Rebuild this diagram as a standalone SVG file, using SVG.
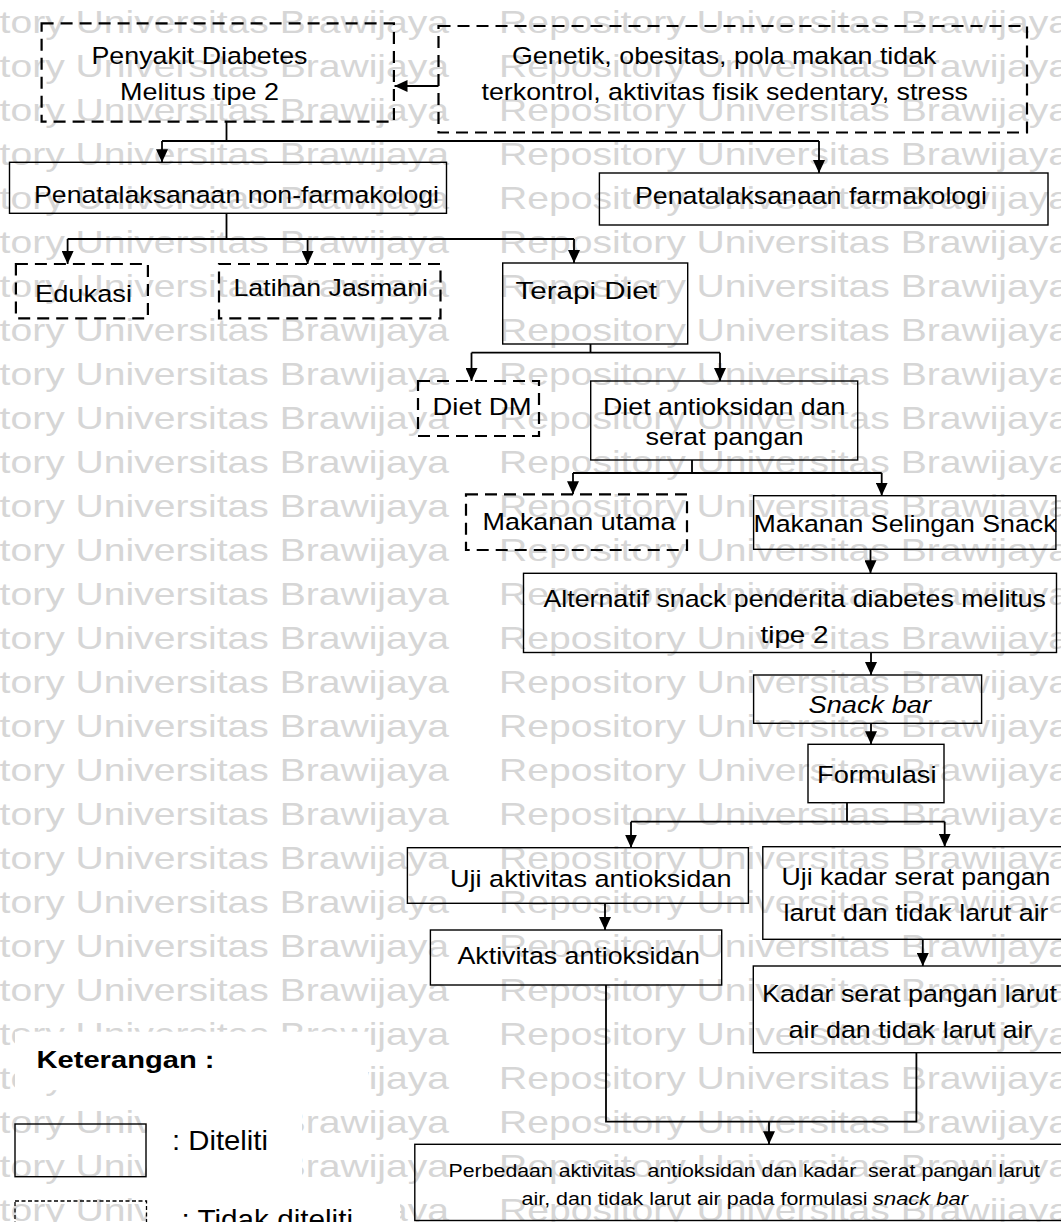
<svg xmlns="http://www.w3.org/2000/svg" width="1061" height="1222" viewBox="0 0 1061 1222">
<style>
.box{fill:none;stroke:#000;stroke-width:1.4}
.dash{fill:none;stroke:#000;stroke-width:2.2;stroke-dasharray:12 7}
.t{font-family:"Liberation Sans",Arial,sans-serif;font-size:24.5px;fill:#000}
.s{font-family:"Liberation Sans",Arial,sans-serif;font-size:17.5px;fill:#000}
.i{font-style:italic}
.wm{font-family:"Liberation Sans",Arial,sans-serif;font-size:30.5px;fill:#d6d6d6}
.conn{fill:none;stroke:#000;stroke-width:1.8}
.arr{fill:none;stroke:#000;stroke-width:1.8;marker-end:url(#ah)}
</style>
<defs>
<marker id="ah" markerUnits="userSpaceOnUse" markerWidth="13" markerHeight="12" refX="13" refY="6" orient="auto" viewBox="0 0 13 12">
<path d="M0,0 L13,6 L0,12 z" fill="#000"/>
</marker>
</defs>
<rect width="1061" height="1222" fill="#fff"/>
<g id="watermark">
<text class="wm" x="-122" y="33" textLength="571" lengthAdjust="spacingAndGlyphs">Repository Universitas Brawijaya</text><text class="wm" x="499" y="33" textLength="571" lengthAdjust="spacingAndGlyphs">Repository Universitas Brawijaya</text>
<text class="wm" x="-122" y="77" textLength="571" lengthAdjust="spacingAndGlyphs">Repository Universitas Brawijaya</text><text class="wm" x="499" y="77" textLength="571" lengthAdjust="spacingAndGlyphs">Repository Universitas Brawijaya</text>
<text class="wm" x="-122" y="121" textLength="571" lengthAdjust="spacingAndGlyphs">Repository Universitas Brawijaya</text><text class="wm" x="499" y="121" textLength="571" lengthAdjust="spacingAndGlyphs">Repository Universitas Brawijaya</text>
<text class="wm" x="-122" y="165" textLength="571" lengthAdjust="spacingAndGlyphs">Repository Universitas Brawijaya</text><text class="wm" x="499" y="165" textLength="571" lengthAdjust="spacingAndGlyphs">Repository Universitas Brawijaya</text>
<text class="wm" x="-122" y="209" textLength="571" lengthAdjust="spacingAndGlyphs">Repository Universitas Brawijaya</text><text class="wm" x="499" y="209" textLength="571" lengthAdjust="spacingAndGlyphs">Repository Universitas Brawijaya</text>
<text class="wm" x="-122" y="253" textLength="571" lengthAdjust="spacingAndGlyphs">Repository Universitas Brawijaya</text><text class="wm" x="499" y="253" textLength="571" lengthAdjust="spacingAndGlyphs">Repository Universitas Brawijaya</text>
<text class="wm" x="-122" y="297" textLength="571" lengthAdjust="spacingAndGlyphs">Repository Universitas Brawijaya</text><text class="wm" x="499" y="297" textLength="571" lengthAdjust="spacingAndGlyphs">Repository Universitas Brawijaya</text>
<text class="wm" x="-122" y="341" textLength="571" lengthAdjust="spacingAndGlyphs">Repository Universitas Brawijaya</text><text class="wm" x="499" y="341" textLength="571" lengthAdjust="spacingAndGlyphs">Repository Universitas Brawijaya</text>
<text class="wm" x="-122" y="385" textLength="571" lengthAdjust="spacingAndGlyphs">Repository Universitas Brawijaya</text><text class="wm" x="499" y="385" textLength="571" lengthAdjust="spacingAndGlyphs">Repository Universitas Brawijaya</text>
<text class="wm" x="-122" y="429" textLength="571" lengthAdjust="spacingAndGlyphs">Repository Universitas Brawijaya</text><text class="wm" x="499" y="429" textLength="571" lengthAdjust="spacingAndGlyphs">Repository Universitas Brawijaya</text>
<text class="wm" x="-122" y="473" textLength="571" lengthAdjust="spacingAndGlyphs">Repository Universitas Brawijaya</text><text class="wm" x="499" y="473" textLength="571" lengthAdjust="spacingAndGlyphs">Repository Universitas Brawijaya</text>
<text class="wm" x="-122" y="517" textLength="571" lengthAdjust="spacingAndGlyphs">Repository Universitas Brawijaya</text><text class="wm" x="499" y="517" textLength="571" lengthAdjust="spacingAndGlyphs">Repository Universitas Brawijaya</text>
<text class="wm" x="-122" y="561" textLength="571" lengthAdjust="spacingAndGlyphs">Repository Universitas Brawijaya</text><text class="wm" x="499" y="561" textLength="571" lengthAdjust="spacingAndGlyphs">Repository Universitas Brawijaya</text>
<text class="wm" x="-122" y="605" textLength="571" lengthAdjust="spacingAndGlyphs">Repository Universitas Brawijaya</text><text class="wm" x="499" y="605" textLength="571" lengthAdjust="spacingAndGlyphs">Repository Universitas Brawijaya</text>
<text class="wm" x="-122" y="649" textLength="571" lengthAdjust="spacingAndGlyphs">Repository Universitas Brawijaya</text><text class="wm" x="499" y="649" textLength="571" lengthAdjust="spacingAndGlyphs">Repository Universitas Brawijaya</text>
<text class="wm" x="-122" y="693" textLength="571" lengthAdjust="spacingAndGlyphs">Repository Universitas Brawijaya</text><text class="wm" x="499" y="693" textLength="571" lengthAdjust="spacingAndGlyphs">Repository Universitas Brawijaya</text>
<text class="wm" x="-122" y="737" textLength="571" lengthAdjust="spacingAndGlyphs">Repository Universitas Brawijaya</text><text class="wm" x="499" y="737" textLength="571" lengthAdjust="spacingAndGlyphs">Repository Universitas Brawijaya</text>
<text class="wm" x="-122" y="781" textLength="571" lengthAdjust="spacingAndGlyphs">Repository Universitas Brawijaya</text><text class="wm" x="499" y="781" textLength="571" lengthAdjust="spacingAndGlyphs">Repository Universitas Brawijaya</text>
<text class="wm" x="-122" y="825" textLength="571" lengthAdjust="spacingAndGlyphs">Repository Universitas Brawijaya</text><text class="wm" x="499" y="825" textLength="571" lengthAdjust="spacingAndGlyphs">Repository Universitas Brawijaya</text>
<text class="wm" x="-122" y="869" textLength="571" lengthAdjust="spacingAndGlyphs">Repository Universitas Brawijaya</text><text class="wm" x="499" y="869" textLength="571" lengthAdjust="spacingAndGlyphs">Repository Universitas Brawijaya</text>
<text class="wm" x="-122" y="913" textLength="571" lengthAdjust="spacingAndGlyphs">Repository Universitas Brawijaya</text><text class="wm" x="499" y="913" textLength="571" lengthAdjust="spacingAndGlyphs">Repository Universitas Brawijaya</text>
<text class="wm" x="-122" y="957" textLength="571" lengthAdjust="spacingAndGlyphs">Repository Universitas Brawijaya</text><text class="wm" x="499" y="957" textLength="571" lengthAdjust="spacingAndGlyphs">Repository Universitas Brawijaya</text>
<text class="wm" x="-122" y="1001" textLength="571" lengthAdjust="spacingAndGlyphs">Repository Universitas Brawijaya</text><text class="wm" x="499" y="1001" textLength="571" lengthAdjust="spacingAndGlyphs">Repository Universitas Brawijaya</text>
<text class="wm" x="-122" y="1045" textLength="571" lengthAdjust="spacingAndGlyphs">Repository Universitas Brawijaya</text><text class="wm" x="499" y="1045" textLength="571" lengthAdjust="spacingAndGlyphs">Repository Universitas Brawijaya</text>
<text class="wm" x="-122" y="1089" textLength="571" lengthAdjust="spacingAndGlyphs">Repository Universitas Brawijaya</text><text class="wm" x="499" y="1089" textLength="571" lengthAdjust="spacingAndGlyphs">Repository Universitas Brawijaya</text>
<text class="wm" x="-122" y="1133" textLength="571" lengthAdjust="spacingAndGlyphs">Repository Universitas Brawijaya</text><text class="wm" x="499" y="1133" textLength="571" lengthAdjust="spacingAndGlyphs">Repository Universitas Brawijaya</text>
<text class="wm" x="-122" y="1177" textLength="571" lengthAdjust="spacingAndGlyphs">Repository Universitas Brawijaya</text><text class="wm" x="499" y="1177" textLength="571" lengthAdjust="spacingAndGlyphs">Repository Universitas Brawijaya</text>
<text class="wm" x="-122" y="1221" textLength="571" lengthAdjust="spacingAndGlyphs">Repository Universitas Brawijaya</text><text class="wm" x="499" y="1221" textLength="571" lengthAdjust="spacingAndGlyphs">Repository Universitas Brawijaya</text>
</g>
<g id="connectors">
<path class="arr" d="M438.5,86 H394.5"/>
<path class="conn" d="M226.5,121.7 V141 M162,141 H819"/>
<path class="arr" d="M162,141 V162.3"/>
<path class="arr" d="M819,141 V173"/>
<path class="conn" d="M226.5,213.3 V239 M67.6,239 H574"/>
<path class="arr" d="M67.6,239 V264"/>
<path class="arr" d="M307.6,239 V264"/>
<path class="arr" d="M574,239 V263"/>
<path class="conn" d="M590.5,344 V352.7 M471.5,352.7 H720"/>
<path class="arr" d="M471.5,352.7 V381"/>
<path class="arr" d="M720,352.7 V381"/>
<path class="conn" d="M692,460 V473 M573,473 H881.7"/>
<path class="arr" d="M573,473 V494.3"/>
<path class="arr" d="M881.7,473 V495.7"/>
<path class="arr" d="M870.5,549.3 V573.3"/>
<path class="arr" d="M871,652.5 V675"/>
<path class="arr" d="M871,723.3 V744.3"/>
<path class="conn" d="M847,802.7 V821.7 M631,821.7 H944.7"/>
<path class="arr" d="M631,821.7 V847.7"/>
<path class="arr" d="M944.7,821.7 V846.7"/>
<path class="arr" d="M605,903.3 V930"/>
<path class="arr" d="M922.8,939.3 V966"/>
<path class="conn" d="M606,985 V1121.7 H916.4 V1052.7"/>
<path class="arr" d="M769,1121.7 V1144.3"/>
</g>
<g id="n-penyakit">
<rect class="dash" x="41.6" y="23.3" width="352.3" height="98.4"/>
<text class="t" x="91.5" y="64" textLength="216" lengthAdjust="spacingAndGlyphs">Penyakit Diabetes</text>
<text class="t" x="120" y="100" textLength="159" lengthAdjust="spacingAndGlyphs">Melitus tipe 2</text>
</g>
<g id="n-genetik">
<rect class="dash" x="438.5" y="26" width="588.5" height="106.5"/>
<text class="t" x="512" y="64" textLength="424.5" lengthAdjust="spacingAndGlyphs">Genetik, obesitas, pola makan tidak</text>
<text class="t" x="481.5" y="100" textLength="486.5" lengthAdjust="spacingAndGlyphs">terkontrol, aktivitas fisik sedentary, stress</text>
</g>
<g id="n-nonfarm">
<rect class="box" x="9.5" y="162.3" width="437" height="51"/>
<text class="t" x="34" y="202.5" textLength="405" lengthAdjust="spacingAndGlyphs">Penatalaksanaan non-farmakologi</text>
</g>
<g id="n-farm">
<rect class="box" x="599.4" y="173" width="448.6" height="52"/>
<text class="t" x="635" y="204" textLength="352" lengthAdjust="spacingAndGlyphs">Penatalaksanaan farmakologi</text>
</g>
<g id="n-edukasi">
<rect class="dash" x="15.9" y="264" width="132" height="54.3"/>
<text class="t" x="35" y="301.7" textLength="97" lengthAdjust="spacingAndGlyphs">Edukasi</text>
</g>
<g id="n-latihan">
<rect class="dash" x="219" y="264" width="221.5" height="54.3"/>
<text class="t" x="233.5" y="296" textLength="194.5" lengthAdjust="spacingAndGlyphs">Latihan Jasmani</text>
</g>
<g id="n-terapi">
<rect class="box" x="502.7" y="263" width="185" height="81"/>
<text class="t" x="515.5" y="298.5" textLength="141.5" lengthAdjust="spacingAndGlyphs">Terapi Diet</text>
</g>
<g id="n-dietdm">
<rect class="dash" x="418" y="381" width="121" height="55"/>
<text class="t" x="432.5" y="415" textLength="99" lengthAdjust="spacingAndGlyphs">Diet DM</text>
</g>
<g id="n-dietanti">
<rect class="box" x="590.7" y="381" width="267" height="79"/>
<text class="t" x="603" y="415" textLength="242.5" lengthAdjust="spacingAndGlyphs">Diet antioksidan dan</text>
<text class="t" x="645.5" y="445" textLength="158" lengthAdjust="spacingAndGlyphs">serat pangan</text>
</g>
<g id="n-makanutama">
<rect class="dash" x="466" y="494.3" width="221" height="55.7"/>
<text class="t" x="482.5" y="530" textLength="193" lengthAdjust="spacingAndGlyphs">Makanan utama</text>
</g>
<g id="n-selingan">
<rect class="box" x="753.6" y="495.7" width="302.3" height="53.6"/>
<text class="t" x="753.5" y="531.7" textLength="303" lengthAdjust="spacingAndGlyphs">Makanan Selingan Snack</text>
</g>
<g id="n-alternatif">
<rect class="box" x="523.5" y="573.3" width="533" height="79.2"/>
<text class="t" x="543.5" y="607" textLength="502.5" lengthAdjust="spacingAndGlyphs">Alternatif snack penderita diabetes melitus</text>
<text class="t" x="760.5" y="643" textLength="68" lengthAdjust="spacingAndGlyphs">tipe 2</text>
</g>
<g id="n-snackbar">
<rect class="box" x="753.6" y="675" width="228" height="48.3"/>
<text class="t i" x="808.5" y="712.5" textLength="122.5" lengthAdjust="spacingAndGlyphs">Snack bar</text>
</g>
<g id="n-formulasi">
<rect class="box" x="808" y="744.3" width="136" height="58.4"/>
<text class="t" x="817" y="783.3" textLength="119.5" lengthAdjust="spacingAndGlyphs">Formulasi</text>
</g>
<g id="n-ujiaktivitas">
<rect class="box" x="407.4" y="847.7" width="341" height="55.6"/>
<text class="t" x="450" y="887" textLength="281.5" lengthAdjust="spacingAndGlyphs">Uji aktivitas antioksidan</text>
</g>
<g id="n-ujikadar">
<rect class="box" x="762.8" y="846.7" width="310" height="92.6"/>
<text class="t" x="781.5" y="885" textLength="269" lengthAdjust="spacingAndGlyphs">Uji kadar serat pangan</text>
<text class="t" x="783.5" y="920.7" textLength="265" lengthAdjust="spacingAndGlyphs">larut dan tidak larut air</text>
</g>
<g id="n-aktivitas">
<rect class="box" x="430.4" y="930" width="291.3" height="55"/>
<text class="t" x="457.5" y="964" textLength="242.5" lengthAdjust="spacingAndGlyphs">Aktivitas antioksidan</text>
</g>
<g id="n-kadar">
<rect class="box" x="753.3" y="966" width="320" height="86.7"/>
<text class="t" x="762" y="1001.7" textLength="295" lengthAdjust="spacingAndGlyphs">Kadar serat pangan larut</text>
<text class="t" x="788.5" y="1037.7" textLength="244" lengthAdjust="spacingAndGlyphs">air dan tidak larut air</text>
</g>
<g id="n-perbedaan">
<rect class="box" x="414.8" y="1144.3" width="660" height="76.2"/>
<text class="s" x="448.5" y="1176.5" textLength="591.5" lengthAdjust="spacingAndGlyphs" xml:space="preserve">Perbedaan aktivitas  antioksidan dan kadar  serat pangan larut</text>
<text class="s" x="521.5" y="1205" textLength="346" lengthAdjust="spacingAndGlyphs">air, dan tidak larut air pada formulasi</text>
<text class="s i" x="873" y="1205" textLength="95" lengthAdjust="spacingAndGlyphs">snack bar</text>
</g>
<g id="legend">
<rect x="15" y="1031.7" width="353" height="58.5" fill="#fff"/>
<rect x="147" y="1090" width="155" height="97" fill="#fff"/>
<rect x="147" y="1190" width="253" height="32" fill="#fff"/>
<text class="t" x="36.5" y="1068.3" textLength="178" lengthAdjust="spacingAndGlyphs" font-weight="bold">Keterangan :</text>
<rect class="box" x="15" y="1124" width="131" height="52.7"/>
<text class="t" x="172" y="1150" textLength="96" lengthAdjust="spacingAndGlyphs" style="font-size:28px">: Diteliti</text>
<rect x="15" y="1201" width="131.5" height="40" fill="none" stroke="#000" stroke-width="1.3" stroke-dasharray="4 2.5"/>
<text class="t" x="181.5" y="1229" textLength="171.5" lengthAdjust="spacingAndGlyphs" style="font-size:28px">: Tidak diteliti</text>
</g>
</svg>
